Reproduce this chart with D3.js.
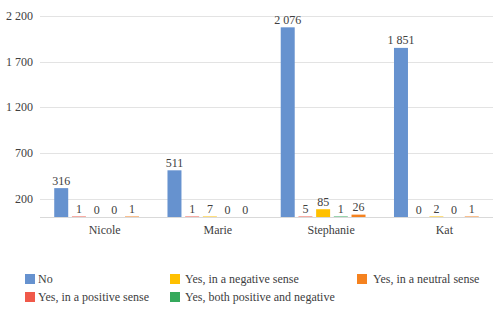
<!DOCTYPE html>
<html>
<head>
<meta charset="utf-8">
<script src="https://cdn.jsdelivr.net/npm/d3@7"></script>
<style>
  body { margin: 0; background: #fff; }
  svg text { fill: #404040; }
</style>
</head>
<body>
<svg id="chart" width="498" height="321"></svg>
<script>
const categories = ["Nicole", "Marie", "Stephanie", "Kat"];
const seriesNames = ["No", "Yes, in a positive sense", "Yes, in a negative sense", "Yes, both positive and negative", "Yes, in a neutral sense"];
const seriesColors = ["#6692CF", "#F0594A", "#FFC000", "#35A95C", "#F5821F"];
const valuesNo = [316, 511, 2076, 1851];
const valuesPositive = [1, 1, 5, 0];
const valuesNegative = [0, 7, 85, 2];
const valuesBoth = [0, 0, 1, 0];
const valuesNeutral = [1, 0, 26, 1];
const tickValues = [200, 700, 1200, 1700, 2200];
const legendOrder = [
  ["No", "Yes, in a negative sense", "Yes, in a neutral sense"],
  ["Yes, in a positive sense", "Yes, both positive and negative"]
];

const seriesValues = [valuesNo, valuesPositive, valuesNegative, valuesBoth, valuesNeutral];
const fmt = v => d3.format(",")(v).replace(/,/g, " ");
const FONT = "Liberation Serif";

const svg = d3.select("#chart");
const plotLeft = 40, plotRight = 493, plotTop = 16, plotBottom = 217;

const y = d3.scaleLinear().domain([0, 2200]).range([plotBottom, plotTop]);
const x0 = d3.scaleBand().domain(categories).range([plotLeft, plotRight]).padding(0);
const x1 = d3.scaleBand().domain(seriesNames).range([0, x0.bandwidth()])
  .paddingInner(0.21).paddingOuter(0.804);

// gridlines
svg.append("g").selectAll("line").data(tickValues).join("line")
  .attr("x1", plotLeft).attr("x2", plotRight)
  .attr("y1", d => Math.round(y(d)) + 0.5).attr("y2", d => Math.round(y(d)) + 0.5)
  .attr("stroke", "#e3e3e3").attr("stroke-width", 1);

// baseline
svg.append("line")
  .attr("x1", plotLeft).attr("x2", plotRight)
  .attr("y1", Math.round(y(0)) + 0.5).attr("y2", Math.round(y(0)) + 0.5)
  .attr("stroke", "#d9d9d9").attr("stroke-width", 1);

// y tick labels
svg.append("g").selectAll("text").data(tickValues).join("text")
  .attr("x", 33).attr("y", d => y(d) + 4)
  .attr("text-anchor", "end").attr("font-size", 12).attr("font-family", FONT)
  .text(d => fmt(d));

// bars
const groups = svg.append("g").selectAll("g").data(categories).join("g")
  .attr("transform", c => `translate(${x0(c)},0)`);

groups.each(function(c, ci) {
  const g = d3.select(this);
  seriesNames.forEach((s, si) => {
    const v = seriesValues[si][ci];
    const h = plotBottom - y(v);
    if (v > 0) {
      const hh = Math.max(h, 1);
      g.append("rect")
        .attr("x", x1(s)).attr("width", x1.bandwidth())
        .attr("y", plotBottom - hh).attr("height", hh)
        .attr("fill", seriesColors[si])
        .attr("opacity", h < 1 ? 0.5 : 1);
    }
    g.append("text")
      .attr("x", x1(s) + x1.bandwidth() / 2)
      .attr("y", y(v) - 3.5)
      .attr("text-anchor", "middle").attr("font-size", 12).attr("font-family", FONT)
      .text(fmt(v));
  });
});

// category labels
svg.append("g").selectAll("text").data(categories).join("text")
  .attr("x", c => x0(c) + x0.bandwidth() / 2 + 8)
  .attr("y", 234)
  .attr("text-anchor", "middle").attr("font-size", 12).attr("font-family", FONT)
  .text(c => c);

// legend
const legendCols = [[25, 38], [170, 185], [357, 373]];
const legendRows = [279, 297];
legendOrder.forEach((row, ri) => {
  row.forEach((name, ci) => {
    const si = seriesNames.indexOf(name);
    svg.append("rect")
      .attr("x", legendCols[ci][0]).attr("y", legendRows[ri] - 5)
      .attr("width", 10).attr("height", 10)
      .attr("fill", seriesColors[si]);
    svg.append("text")
      .attr("x", legendCols[ci][1]).attr("y", legendRows[ri] + 4)
      .attr("font-size", 12).attr("font-family", FONT)
      .text(name);
  });
});
</script>
</body>
</html>
